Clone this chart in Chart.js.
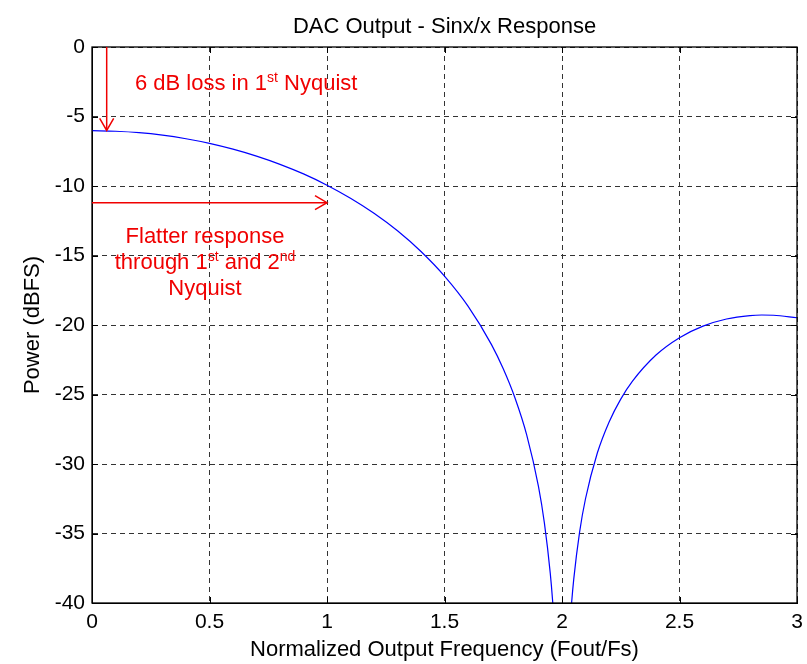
<!DOCTYPE html>
<html>
<head>
<meta charset="utf-8">
<script src="https://cdn.jsdelivr.net/npm/chart.js@4/dist/chart.umd.min.js"></script>
<style>
  html, body { margin: 0; padding: 0; background: #fff; }
  #wrap { width: 807px; height: 664px; }
</style>
</head>
<body>
<div id="wrap"><canvas id="c" width="807" height="664"></canvas></div>
<script>
// Normalized output frequency (Fout/Fs) and DAC output power (dBFS)
const freq = [0, 0.1, 0.2, 0.3, 0.4, 0.5, 0.6, 0.7, 0.8, 0.9, 1.0, 1.1, 1.2, 1.3, 1.4, 1.5, 1.6, 1.7,
  1.75, 1.8, 1.85, 1.9, 1.925, 1.95, 1.96, 1.97, 1.99, 2.01, 2.03, 2.04, 2.05, 2.075, 2.1,
  2.15, 2.2, 2.25, 2.3, 2.4, 2.5, 2.6, 2.7, 2.8, 2.85, 2.9, 3.0];
const power = [-6.02, -6.06, -6.16, -6.34, -6.60, -6.93, -7.35, -7.85, -8.44, -9.13, -9.94, -10.88, -11.96, -13.22, -14.71, -16.48, -18.64, -21.41,
  -23.15, -25.25, -27.92, -31.63, -34.23, -37.85, -39.83, -42.37, -52.0, -52.1, -42.63, -40.18, -38.28, -34.88, -32.50,
  -29.23, -26.99, -25.33, -24.04, -22.16, -20.91, -20.08, -19.57, -19.32, -19.28, -19.30, -19.48];

// Axis ranges, tick spacing and tick labels
const xRange = [0, 3];
const xStep = 0.5;
const xTickLabels = ['0', '0.5', '1', '1.5', '2', '2.5', '3'];
const yRange = [-40, 0];
const yStep = 5;
const yTickLabels = ['-40', '-35', '-30', '-25', '-20', '-15', '-10', '-5', '0'];

const chartTitle = 'DAC Output - Sinx/x Response';

// Annotation arrows (data units)
const lossArrow = { x: 0.0625, from: 0, to: -6 };
const flatArrow = { y: -11.2, from: 0, to: 1 };

// Annotation texts: rich segments with superscripts
const lossNote = { x: 0.183, y: -3.09, align: 'left',
  lines: [[['6 dB loss in 1', false], ['st', true], [' Nyquist', false]]] };
const flatNote = { x: 0.481, y: -14.12, align: 'center', lineGap: 26,
  lines: [
    [['Flatter response', false]],
    [['through 1', false], ['st', true], [' and 2', false], ['nd', true]],
    [['Nyquist', false]]
  ] };

const FONT = '"Liberation Sans", Arial, Helvetica, sans-serif';
const RED = '#f00000';

function drawArrowHead(ctx, tipX, tipY, dx, dy) {
  const len = 12, half = 7;
  const bx = tipX - dx * len, by = tipY - dy * len;
  const px = -dy, py = dx;
  ctx.beginPath();
  ctx.moveTo(bx + px * half, by + py * half);
  ctx.lineTo(tipX, tipY);
  ctx.lineTo(bx - px * half, by - py * half);
  ctx.stroke();
}

function drawRich(ctx, segs, x, y, align) {
  const baseFont = '22px ' + FONT, supFont = '14px ' + FONT;
  let total = 0;
  segs.forEach(([t, sup]) => { ctx.font = sup ? supFont : baseFont; total += ctx.measureText(t).width; });
  let cx = align === 'center' ? x - total / 2 : x;
  ctx.textAlign = 'left';
  ctx.textBaseline = 'alphabetic';
  segs.forEach(([t, sup]) => {
    ctx.font = sup ? supFont : baseFont;
    ctx.fillText(t, cx, sup ? y - 8 : y);
    cx += ctx.measureText(t).width;
  });
}

const framePlugin = {
  id: 'frameAndNotes',
  afterDraw(chart) {
    const { ctx, chartArea: a, scales: { x, y } } = chart;
    ctx.save();
    // title centred over the plot area
    ctx.fillStyle = '#000';
    ctx.font = '22px ' + FONT;
    ctx.textAlign = 'center';
    ctx.textBaseline = 'middle';
    ctx.fillText(chartTitle, (a.left + a.right) / 2, 27);

    // axes box
    ctx.strokeStyle = '#000';
    ctx.lineWidth = 1.3;
    ctx.strokeRect(a.left, a.top, a.right - a.left, a.bottom - a.top);
    // inward tick marks on all four sides
    ctx.lineWidth = 1;
    const tl = 6;
    ctx.beginPath();
    x.ticks.forEach(t => {
      const px = Math.round(x.getPixelForValue(t.value)) + 0.5;
      ctx.moveTo(px, a.bottom); ctx.lineTo(px, a.bottom - tl);
      ctx.moveTo(px, a.top); ctx.lineTo(px, a.top + tl);
    });
    y.ticks.forEach(t => {
      const py = Math.round(y.getPixelForValue(t.value)) + 0.5;
      ctx.moveTo(a.left, py); ctx.lineTo(a.left + tl, py);
      ctx.moveTo(a.right, py); ctx.lineTo(a.right - tl, py);
    });
    ctx.stroke();

    // red annotation arrows
    ctx.strokeStyle = RED;
    ctx.fillStyle = RED;
    ctx.lineWidth = 1.5;
    const ax = x.getPixelForValue(lossArrow.x);
    const ay0 = y.getPixelForValue(lossArrow.from), ay1 = y.getPixelForValue(lossArrow.to);
    ctx.beginPath(); ctx.moveTo(ax, ay0); ctx.lineTo(ax, ay1); ctx.stroke();
    drawArrowHead(ctx, ax, ay1, 0, 1);

    const by = y.getPixelForValue(flatArrow.y);
    const bx0 = x.getPixelForValue(flatArrow.from), bx1 = x.getPixelForValue(flatArrow.to);
    ctx.beginPath(); ctx.moveTo(bx0, by); ctx.lineTo(bx1, by); ctx.stroke();
    drawArrowHead(ctx, bx1, by, 1, 0);

    // annotation texts
    [lossNote, flatNote].forEach(n => {
      const px = x.getPixelForValue(n.x);
      const py = y.getPixelForValue(n.y);
      n.lines.forEach((segs, i) => drawRich(ctx, segs, px, py + i * (n.lineGap || 0), n.align));
    });
    ctx.restore();
  }
};

const points = freq.map((f, i) => ({ x: f, y: power[i] }));

new Chart(document.getElementById('c'), {
  type: 'line',
  data: {
    datasets: [{
      data: points,
      borderColor: '#0000ff',
      borderWidth: 1.2,
      pointRadius: 0,
      cubicInterpolationMode: 'monotone',
      fill: false,
      clip: 0
    }]
  },
  options: {
    responsive: false,
    animation: false,
    events: [],
    layout: { padding: { left: 0, right: 10, top: 47, bottom: 0 } },
    plugins: {
      legend: { display: false },
      tooltip: { enabled: false },
      title: { display: false }
    },
    scales: {
      x: {
        type: 'linear',
        min: xRange[0], max: xRange[1],
        afterFit(s) { s.height = 61; s.paddingLeft = 0; s.paddingRight = 0; },
        ticks: { stepSize: xStep, color: '#000', padding: 7, maxRotation: 0,
          font: { family: FONT, size: 21 },
          callback: (v, i) => xTickLabels[i] },
        grid: { color: '#333', lineWidth: 1, drawTicks: false },
        border: { display: true, color: '#000', dash: [5, 4] },
        title: { display: true, text: 'Normalized Output Frequency (Fout/Fs)', color: '#000',
          font: { family: FONT, size: 22 }, padding: { top: 0, bottom: 1 } }
      },
      y: {
        type: 'linear',
        min: yRange[0], max: yRange[1],
        afterFit(s) { s.width = 92; s.paddingTop = 0; s.paddingBottom = 0; },
        ticks: { stepSize: yStep, color: '#000', padding: 7,
          font: { family: FONT, size: 21 },
          callback: (v, i) => yTickLabels[i] },
        grid: { color: '#333', lineWidth: 1, drawTicks: false },
        border: { display: true, color: '#000', dash: [5, 4] },
        title: { display: true, text: 'Power (dBFS)', color: '#000',
          font: { family: FONT, size: 22 }, padding: { top: 20, bottom: 0 } }
      }
    }
  },
  plugins: [framePlugin]
});
</script>
</body>
</html>
